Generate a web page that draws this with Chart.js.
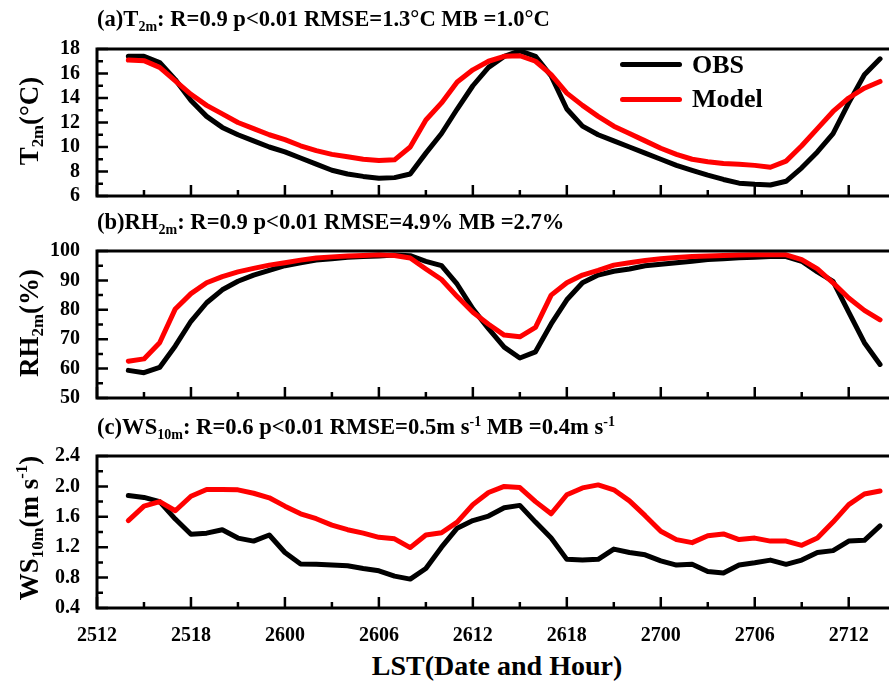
<!DOCTYPE html>
<html>
<head>
<meta charset="utf-8">
<script src="https://cdn.jsdelivr.net/npm/chart.js@4.4.0/dist/chart.umd.min.js"></script>
<style>
  html, body { margin: 0; padding: 0; width: 889px; height: 681px; overflow: hidden; background: #fff; }
  body { position: relative; font-family: 'Liberation Serif', 'Times New Roman', serif; font-weight: bold; color: #000; }
  canvas { position: absolute; left: 0; }
  .ptitle { position: absolute; left: 97px; font-size: 22.6px; line-height: 22.6px; white-space: nowrap; }
  .ytitle { position: absolute; font-size: 27px; line-height: 27px; white-space: nowrap;
            transform: translate(-50%, -50%) rotate(-90deg); }
  .xtitle { position: absolute; left: 497px; top: 652px; font-size: 28px; line-height: 28px;
            white-space: nowrap; transform: translateX(-50%); }
  sub { font-size: 0.62em; vertical-align: -0.35em; line-height: 0; }
  sup { font-size: 0.62em; vertical-align: 0.6em; line-height: 0; }
  .legline { position: absolute; left: 620px; width: 62px; height: 5px; border-radius: 3px; }
  .legtext { position: absolute; left: 692px; font-size: 26px; line-height: 26px; }
</style>
</head>
<body>
<canvas id="cT" width="895" height="189" style="top:28px"></canvas>
<canvas id="cRH" width="895" height="189" style="top:230px"></canvas>
<canvas id="cWS" width="895" height="213" style="top:435px"></canvas>

<div class="ptitle" style="top:8px">(a)T<sub>2m</sub>: R=0.9 p&lt;0.01 RMSE=1.3°C MB =1.0°C</div>
<div class="ptitle" style="top:211px">(b)RH<sub>2m</sub>: R=0.9 p&lt;0.01 RMSE=4.9% MB =2.7%</div>
<div class="ptitle" style="top:416px">(c)WS<sub>10m</sub>: R=0.6 p&lt;0.01 RMSE=0.5m s<sup>-1</sup> MB =0.4m s<sup>-1</sup></div>

<div class="ytitle" style="left:29px; top:121px">T<sub>2m</sub>(°C)</div>
<div class="ytitle" style="left:29px; top:323px">RH<sub>2m</sub>(%)</div>
<div class="ytitle" style="left:29px; top:528px">WS<sub>10m</sub>(m s<sup>-1</sup>)</div>
<div class="xtitle">LST(Date and Hour)</div>

<div class="legline" style="top:62px; background:#000"></div>
<div class="legtext" style="top:52px">OBS</div>
<div class="legline" style="top:97px; background:#f00"></div>
<div class="legtext" style="top:86px">Model</div>

<script>
// hourly times (DDHH, local standard time)
const lst = [
  '2514', '2515', '2516', '2517', '2518', '2519', '2520', '2521', '2522', '2523',
  '2600', '2601', '2602', '2603', '2604', '2605', '2606', '2607', '2608', '2609', '2610', '2611',
  '2612', '2613', '2614', '2615', '2616', '2617', '2618', '2619', '2620', '2621', '2622', '2623',
  '2700', '2701', '2702', '2703', '2704', '2705', '2706', '2707', '2708', '2709', '2710', '2711',
  '2712', '2713', '2714'
];

// 2 m temperature (°C)
const tObs = [17.4, 17.4, 16.9, 15.5, 13.8, 12.5, 11.6, 11.0, 10.5, 10.0, 9.6, 9.1, 8.6, 8.1, 7.8, 7.6,
  7.45, 7.5, 7.8, 9.5, 11.1, 13.1, 15.0, 16.5, 17.4, 17.85, 17.4, 15.8, 13.1, 11.7, 11.0, 10.5, 10.0,
  9.5, 9.0, 8.5, 8.1, 7.7, 7.35, 7.05, 6.95, 6.9, 7.2, 8.3, 9.6, 11.1, 13.6, 15.9, 17.2];
const tModel = [17.1, 17.05, 16.5, 15.4, 14.3, 13.4, 12.7, 12.0, 11.5, 11.0, 10.6, 10.1, 9.7, 9.4, 9.2,
  9.0, 8.9, 8.95, 10.0, 12.2, 13.6, 15.3, 16.3, 17.0, 17.4, 17.45, 17.0, 15.9, 14.4, 13.4, 12.5, 11.7,
  11.1, 10.5, 9.9, 9.4, 9.0, 8.8, 8.65, 8.6, 8.5, 8.35, 8.85, 10.1, 11.5, 12.9, 14.0, 14.8, 15.35];

// 2 m relative humidity (%)
const rhObs = [59.4, 58.6, 60.4, 67.7, 76.1, 82.4, 86.8, 89.7, 91.8, 93.4, 95.0, 96.0, 96.9, 97.4, 97.9,
  98.1, 98.3, 98.6, 98.4, 96.5, 95.0, 88.7, 80.3, 73.6, 67.3, 63.6, 65.7, 75.2, 83.4, 89.2, 91.8, 93.1,
  93.9, 95.0, 95.5, 96.0, 96.5, 97.1, 97.4, 97.7, 97.9, 98.1, 98.1, 96.5, 92.9, 89.7, 79.2, 68.8, 61.4];
const rhModel = [62.5, 63.3, 68.8, 80.3, 85.5, 89.2, 91.3, 92.9, 94.1, 95.2, 96.0, 96.9, 97.6, 98.0, 98.3,
  98.5, 98.7, 98.5, 97.6, 93.9, 90.3, 84.5, 79.2, 75.1, 71.4, 70.8, 74.0, 85.0, 89.2, 91.8, 93.4, 95.2,
  96.0, 96.8, 97.4, 97.8, 98.1, 98.3, 98.5, 98.6, 98.7, 98.7, 98.7, 97.1, 93.9, 89.2, 84.0, 79.8, 76.6];

// 10 m wind speed (m/s)
const wsObs = [1.88, 1.855, 1.80, 1.57, 1.37, 1.385, 1.43, 1.32, 1.28, 1.36, 1.13, 0.98, 0.975, 0.965,
  0.955, 0.92, 0.89, 0.82, 0.78, 0.92, 1.2, 1.45, 1.55, 1.61, 1.72, 1.75, 1.53, 1.32, 1.04, 1.03, 1.04,
  1.175, 1.13, 1.10, 1.02, 0.965, 0.975, 0.88, 0.86, 0.965, 0.995, 1.03, 0.975, 1.03, 1.13, 1.155, 1.28,
  1.29, 1.48];
const wsModel = [1.55, 1.74, 1.80, 1.68, 1.87, 1.96, 1.96, 1.955, 1.91, 1.85, 1.74, 1.64, 1.575, 1.49,
  1.43, 1.385, 1.33, 1.31, 1.195, 1.36, 1.39, 1.53, 1.76, 1.92, 2.00, 1.985, 1.80, 1.64, 1.89, 1.98,
  2.02, 1.955, 1.81, 1.615, 1.41, 1.30, 1.26, 1.35, 1.375, 1.30, 1.32, 1.28, 1.28, 1.225, 1.32, 1.53,
  1.76, 1.90, 1.94];

// axis ticks
const xTickLabels = ['2512', '2518', '2600', '2606', '2612', '2618', '2700', '2706', '2712'];
const tTicks = [6, 8, 10, 12, 14, 16, 18];
const rhTicks = [50, 60, 70, 80, 90, 100];
const wsTicks = [0.4, 0.8, 1.2, 1.6, 2.0, 2.4];

// hours since 25th 12:00
function toHour(s) {
  const day = +s.slice(0, 2), hr = +s.slice(2);
  return (day - 25) * 24 + hr - 12;
}

const hours = lst.map(toHour);
const xMajor = xTickLabels.map(toHour);
const xMinor = xMajor.map(v => v + 3);

const tickFont = { family: "'Liberation Serif', 'Times New Roman', serif", size: 20, weight: 'bold' };

// box around the plot area + inward tick marks
const frameTicks = {
  id: 'frameTicks',
  afterDatasetsDraw(chart, args, opts) {
    const { ctx, chartArea: a } = chart;
    const x = chart.scales.x, y = chart.scales.y;
    ctx.save();
    ctx.strokeStyle = '#000';
    ctx.lineWidth = 2.5;
    ctx.beginPath();
    xMajor.forEach(v => { const p = x.getPixelForValue(v); ctx.moveTo(p, a.bottom); ctx.lineTo(p, a.bottom - 11); });
    xMinor.forEach(v => { const p = x.getPixelForValue(v); ctx.moveTo(p, a.bottom); ctx.lineTo(p, a.bottom - 6); });
    opts.yMajor.forEach(v => { const p = y.getPixelForValue(v); ctx.moveTo(a.left, p); ctx.lineTo(a.left + 11, p); });
    opts.yMinor.forEach(v => { const p = y.getPixelForValue(v); ctx.moveTo(a.left, p); ctx.lineTo(a.left + 6, p); });
    ctx.stroke();
    ctx.lineWidth = 3;
    ctx.strokeRect(a.left, a.top, a.right - a.left, a.bottom - a.top);
    ctx.restore();
  }
};

function makePanel(id, obs, model, yTicks, fmt, showX) {
  const step = yTicks[1] - yTicks[0];
  const yMinor = yTicks.slice(0, -1).map(v => v + step / 2);
  return new Chart(document.getElementById(id), {
    type: 'line',
    data: {
      datasets: [
        { label: 'OBS', data: hours.map((h, i) => ({ x: h, y: obs[i] })), borderColor: '#000', order: 1 },
        { label: 'Model', data: hours.map((h, i) => ({ x: h, y: model[i] })), borderColor: '#ff0000', order: 0 }
      ]
    },
    options: {
      responsive: false,
      animation: false,
      layout: { padding: { top: 14, right: 4, left: 0, bottom: 0 } },
      elements: {
        point: { radius: 0 },
        line: { borderWidth: 5, tension: 0, borderJoinStyle: 'round', borderCapStyle: 'round', fill: false }
      },
      plugins: {
        legend: { display: false },
        tooltip: { enabled: false },
        frameTicks: { yMajor: yTicks, yMinor: yMinor }
      },
      scales: {
        x: {
          type: 'linear', min: 0, max: 50.7,
          grid: { display: false }, border: { display: false },
          ticks: {
            display: showX, autoSkip: false, maxRotation: 0, padding: 8, color: '#000', font: tickFont,
            callback: v => xTickLabels[xMajor.indexOf(v)]
          },
          afterBuildTicks: s => { s.ticks = xMajor.map(v => ({ value: v })); },
          afterFit: s => { s.height = showX ? 40 : 16; }
        },
        y: {
          min: yTicks[0], max: yTicks[yTicks.length - 1],
          grid: { display: false }, border: { display: false },
          ticks: { padding: 9, color: '#000', font: tickFont, callback: fmt },
          afterBuildTicks: s => { s.ticks = yTicks.map(v => ({ value: v })); },
          afterFit: s => { s.width = 97; }
        }
      }
    },
    plugins: [frameTicks]
  });
}

makePanel('cT', tObs, tModel, tTicks, v => v, false);
makePanel('cRH', rhObs, rhModel, rhTicks, v => v, false);
makePanel('cWS', wsObs, wsModel, wsTicks, v => v.toFixed(1), true);
</script>
</body>
</html>
